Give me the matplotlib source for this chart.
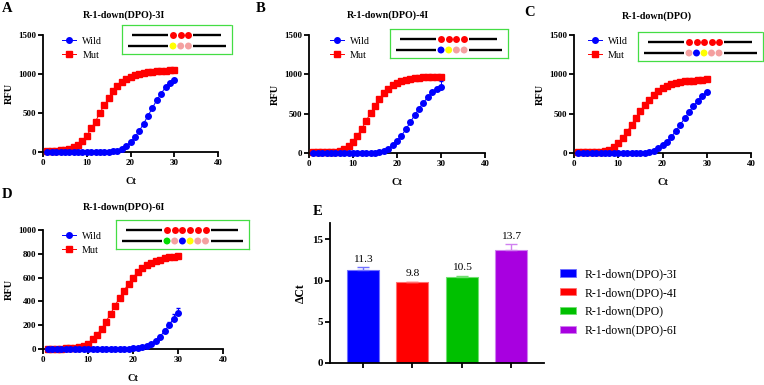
import numpy as np
import matplotlib
matplotlib.use("Agg")
import matplotlib.pyplot as plt
from matplotlib.lines import Line2D
from matplotlib.patches import Patch

plt.rcParams["font.family"] = ["Liberation Serif", "DejaVu Serif"]

W, H = 764, 385

# ---- data ----
cycles = np.arange(1, 31)

a_mut = [10, 12, 15, 20, 28, 40, 60, 90, 145, 205, 303, 390, 504, 598, 688,
         781, 845, 900, 935, 965, 990, 1005, 1015, 1025, 1030, 1035, 1040, 1042, 1045, 1047]
a_wild = [3, 3, 3, 3, 3, 3, 3, 3, 3, 3, 3, 3, 3, 4, 5,
          8, 15, 35, 75, 125, 190, 270, 365, 465, 565, 665, 750, 830, 890, 925]

b_mut = [8, 8, 8, 9, 10, 13, 22, 45, 90, 145, 220, 310, 410, 510, 600,
         690, 760, 815, 860, 895, 915, 930, 940, 950, 955, 960, 963, 965, 967, 968]
b_wild = [3, 3, 3, 3, 3, 3, 3, 3, 3, 3, 3, 3, 3, 3, 3,
          10, 25, 55, 100, 155, 220, 300, 390, 480, 565, 640, 710, 770, 810, 845]
b_wild_err = [0] * 26 + [8, 20, 35, 65]

c_mut = [8, 8, 8, 9, 10, 12, 20, 40, 75, 125, 190, 270, 360, 450, 535,
         610, 680, 740, 790, 825, 855, 875, 890, 900, 910, 915, 920, 925, 930, 935]
c_wild = [3, 3, 3, 3, 3, 3, 3, 3, 3, 3, 3, 3, 3, 3, 3,
          3, 15, 30, 60, 100, 145, 205, 280, 360, 440, 520, 595, 665, 730, 775]

d_mut = [3, 3, 3, 4, 5, 7, 10, 15, 25, 45, 80, 120, 170, 230, 295,
         365, 430, 490, 550, 600, 645, 680, 705, 725, 740, 752, 762, 770, 775, 780]
d_mut_err = [0] * 20 + [8, 10, 12, 14, 15, 16, 17, 18, 18, 18]
d_wild = [2, 2, 2, 2, 2, 2, 2, 2, 2, 2, 2, 2, 2, 2, 2,
          2, 2, 2, 2, 5, 8, 15, 28, 45, 70, 105, 150, 200, 255, 305]
d_wild_err = [0] * 25 + [10, 20, 25, 35, 40]

probe_names = ["R-1-down(DPO)-3I", "R-1-down(DPO)-4I", "R-1-down(DPO)", "R-1-down(DPO)-6I"]
delta_ct = [11.3, 9.8, 10.5, 13.7]
delta_ct_err = [0.3, 0.05, 0.12, 0.7]
bar_colors = ["#0000FF", "#FF0000", "#00C000", "#A800E0"]
bar_edges = ["#7070FF", "#FF7070", "#70E070", "#D080F0"]

# schematic base colours (top strand always red)
RED, PINK, YEL, BLU, GRN = "#FF0000", "#F4A0A0", "#FFFF00", "#0000FF", "#00DD00"
probe_a = [YEL, PINK, PINK]
probe_b = [BLU, YEL, PINK, PINK]
probe_c = [PINK, BLU, YEL, PINK, PINK]
probe_d = [GRN, PINK, BLU, YEL, PINK, PINK]


def px_rect(left, top, right, bottom):
    return [left / W, 1 - bottom / H, (right - left) / W, (bottom - top) / H]


def style_axes(ax, tick_size):
    for s in ("top", "right"):
        ax.spines[s].set_visible(False)
    for s in ("left", "bottom"):
        ax.spines[s].set_linewidth(1.3)
    ax.tick_params(direction="out", length=3.5, width=1.3, labelsize=tick_size, pad=1.5)
    for lab in ax.get_xticklabels() + ax.get_yticklabels():
        lab.set_fontweight("bold")


def draw_probe(left, top, bottom_colors, step=7.7):
    n = len(bottom_colors)
    c0 = 51
    xs = c0 + step * np.arange(n)
    last = xs[-1]
    w = last + 44
    ax = fig.add_axes(px_rect(left, top, left + w, top + 29))
    ax.set_xlim(0, w)
    ax.set_ylim(29, 0)
    ax.set_xticks([])
    ax.set_yticks([])
    for s in ax.spines.values():
        s.set_linestyle((0, (1, 1)))
        s.set_color("#44DD44")
        s.set_linewidth(0.9)
    y_top, y_bot = 10, 21
    ax.plot([c0 - 41, c0 - 5], [y_top, y_top], color="black", lw=1.7, solid_capstyle="butt")
    ax.plot([last + 5, last + 33], [y_top, y_top], color="black", lw=1.7, solid_capstyle="butt")
    ax.plot([c0 - 45, c0 - 5], [y_bot, y_bot], color="black", lw=1.7, solid_capstyle="butt")
    ax.plot([last + 5, last + 38], [y_bot, y_bot], color="black", lw=1.7, solid_capstyle="butt")
    ax.scatter(xs, [y_top] * n, s=25, color=RED, linewidths=0)
    ax.scatter(xs, [y_bot] * n, s=25, color=bottom_colors, linewidths=0)


def curve_panel(rect, ymax, yticks, wild, mut, wild_err, mut_err, leg_anchor):
    ax = fig.add_axes(px_rect(*rect))
    ax.errorbar(cycles, mut, yerr=[np.zeros(30), mut_err], color="#FF0000", marker="s",
                ms=3.7, lw=0.7, elinewidth=0.7, capsize=1.5, clip_on=False, zorder=3)
    ax.errorbar(cycles, wild, yerr=[np.zeros(30), wild_err], color="#0000FF", marker="o",
                ms=4.0, lw=0.7, elinewidth=0.7, capsize=1.5, clip_on=False, zorder=4)
    ax.set_xlim(0, 40)
    ax.set_ylim(0, ymax)
    ax.set_xticks([0, 10, 20, 30, 40])
    ax.set_yticks(yticks)
    style_axes(ax, 6.5)
    ax.set_xlabel("Ct", fontsize=7.5, fontweight="bold", labelpad=7)
    ax.set_ylabel("RFU", fontsize=7.5, fontweight="bold", labelpad=3)
    handles = [Line2D([], [], color="#0000FF", marker="o", ms=4.0, lw=0.7, label="Wild"),
               Line2D([], [], color="#FF0000", marker="s", ms=3.7, lw=0.7, label="Mut")]
    ax.legend(handles=handles, loc="upper left", bbox_to_anchor=leg_anchor, frameon=False,
              fontsize=7.2, handlelength=1.4, handletextpad=0.6, labelspacing=0.5,
              borderpad=0, borderaxespad=0)
    return ax


fig = plt.figure(figsize=(W / 100, H / 100), dpi=100)

# panels A-D
zeros = [0] * 30
curve_panel((43, 35, 218, 152), 1500, [0, 500, 1000, 1500], a_wild, a_mut, zeros, zeros, (0.11, 0.985))
curve_panel((309, 35, 485, 153), 1500, [0, 500, 1000, 1500], b_wild, b_mut, b_wild_err, zeros, (0.12, 0.985))
curve_panel((574, 35, 751, 153), 1500, [0, 500, 1000, 1500], c_wild, c_mut, zeros, zeros, (0.08, 0.985))
curve_panel((43, 230, 223, 349), 1000, [0, 200, 400, 600, 800, 1000], d_wild, d_mut, d_wild_err, d_mut_err, (0.105, 0.985))

draw_probe(122, 25, probe_a)
draw_probe(390, 29, probe_b)
draw_probe(638, 32, probe_c, step=7.5)
draw_probe(116, 220, probe_d)

titles = [(124, 15, probe_names[0]), (388, 15, probe_names[1]),
          (657, 16, probe_names[2]), (124, 207, probe_names[3])]
for x, y, t in titles:
    fig.text(x / W, 1 - y / H, t, ha="center", va="center", fontsize=7.2, fontweight="bold")

letters = [(7, 8, "A"), (261, 8, "B"), (530, 13, "C"), (7, 195, "D"), (318, 212, "E")]
for x, y, t in letters:
    fig.text(x / W, 1 - y / H, t, ha="center", va="center", fontsize=10.5, fontweight="bold")

# panel E
axe = fig.add_axes(px_rect(330, 223, 544, 363))
pos = np.arange(len(delta_ct))
axe.bar(pos, delta_ct, width=0.65, color=bar_colors, edgecolor=bar_edges, linewidth=0.8, zorder=2)
for i in range(len(pos)):
    axe.errorbar(pos[i], delta_ct[i], yerr=[[0], [delta_ct_err[i]]], color=bar_edges[i],
                 elinewidth=1.0, capsize=4.5, capthick=1.0, zorder=3)
    axe.annotate(f"{delta_ct[i]:.1f}", (pos[i], delta_ct[i] + delta_ct_err[i]),
                 xytext=(0, 2.5), textcoords="offset points", ha="center", va="bottom", fontsize=8.2)
axe.set_xlim(-0.67, 3.67)
axe.set_ylim(0, 17)
axe.set_yticks([0, 5, 10, 15])
axe.set_xticks(pos)
axe.set_xticklabels([])
style_axes(axe, 8)
axe.set_ylabel("ΔCt", fontsize=8.5, fontweight="bold", labelpad=4)

leg_handles = [Patch(facecolor=c, edgecolor=e, linewidth=0.6, label=n)
               for c, e, n in zip(bar_colors, bar_edges, probe_names)]
fig.legend(handles=leg_handles, loc="upper left", bbox_to_anchor=(560 / W, 1 - 268 / H),
           frameon=False, fontsize=8.5, handlelength=1.35, handleheight=0.6,
           handletextpad=0.7, labelspacing=0.58, borderpad=0, borderaxespad=0)

fig.savefig("out.png", dpi=100)
